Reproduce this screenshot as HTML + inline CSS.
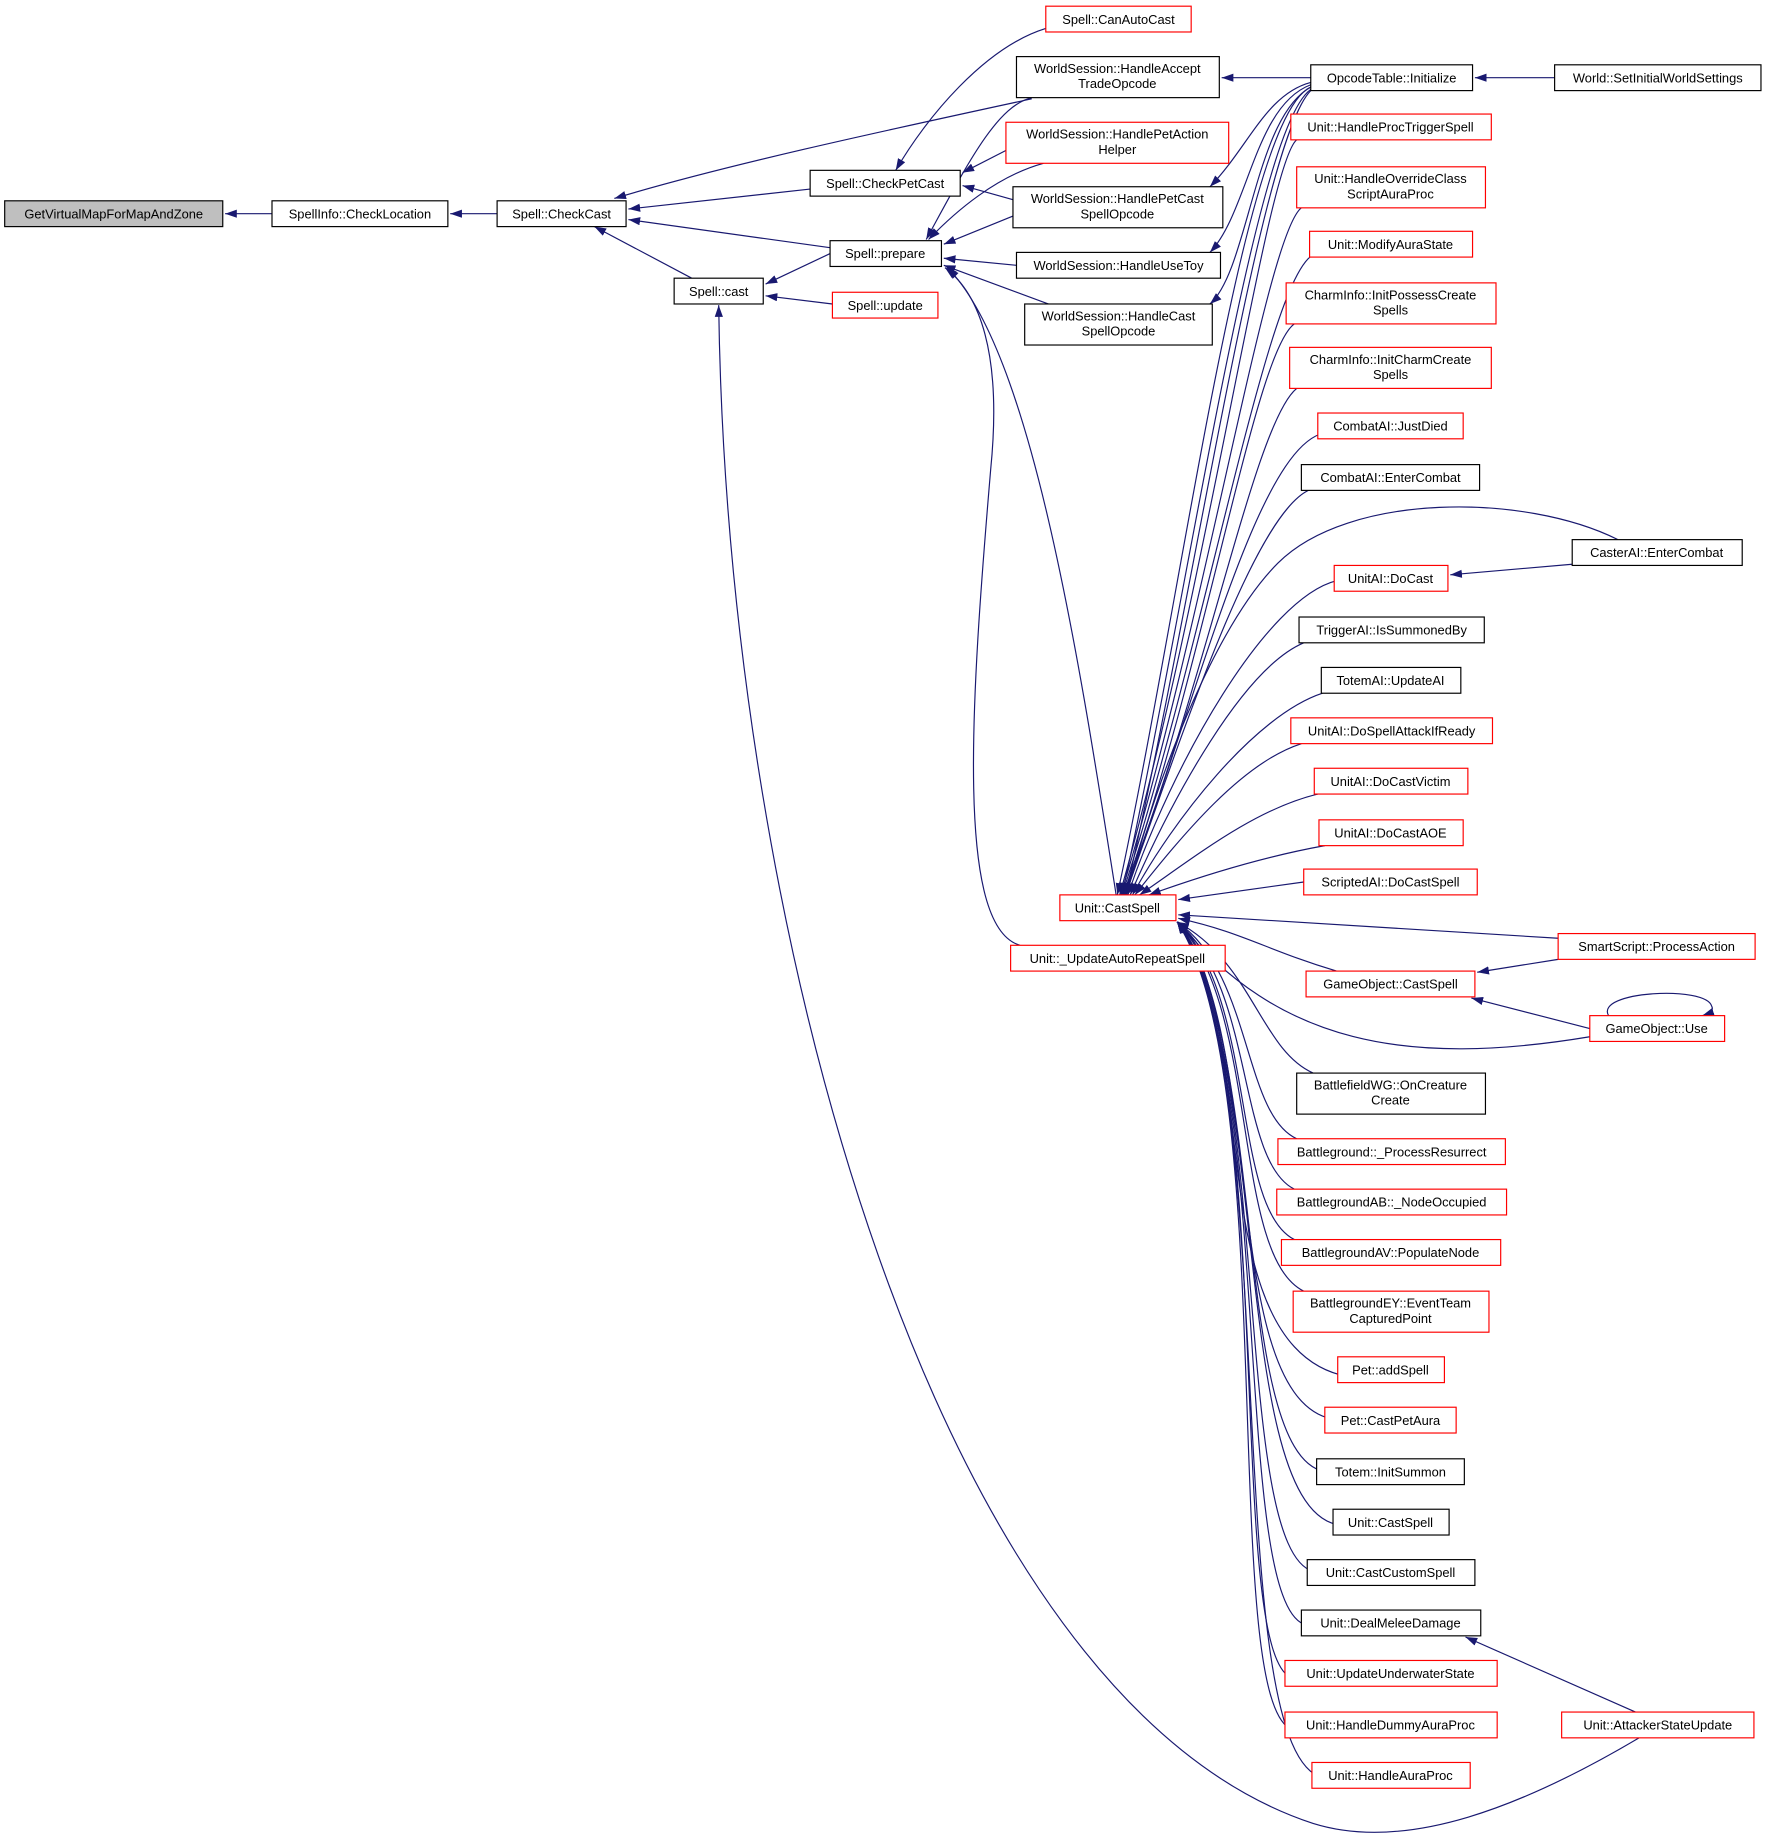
<!DOCTYPE html>
<html><head><meta charset="utf-8"><style>
html,body{margin:0;padding:0;background:#fff}
svg{display:block}
text{font-family:"Liberation Sans",sans-serif;font-size:11px;fill:#000}
.n{fill:#fff;stroke:#000;stroke-width:1}
.r{fill:#fff;stroke:#f00;stroke-width:1}
.e{fill:none;stroke:#191970;stroke-width:1}
</style></head><body>
<svg width="1768" height="1839" viewBox="0 0 1508 1568" xmlns="http://www.w3.org/2000/svg">
<defs><marker id="a" markerUnits="userSpaceOnUse" markerWidth="11" markerHeight="8" refX="10" refY="3.5" orient="auto"><path d="M0,0L10,3.5L0,7z" fill="#191970"/></marker></defs>
<g class="e" marker-end="url(#a)">
<path d="M232,182L192,182"/>
<path d="M424,182L384,182"/>
<path d="M691,161L536,178"/>
<path d="M708,211L536,187"/>
<path d="M880,84C760,110 620,140 524,169"/>
<path d="M590,237L507,193"/>
<path d="M708,216L653,242"/>
<path d="M710,259L653,252"/>
<path d="M892,24C840,40 790,100 764,145"/>
<path d="M860,127L821,147"/>
<path d="M864,170L821,158"/>
<path d="M880,83C850,90 825,140 790,204"/>
<path d="M890,139C850,150 815,180 792,204"/>
<path d="M864,184L805,208"/>
<path d="M867,226L805,220"/>
<path d="M897,260L805,226"/>
<path d="M952,763C920,560 880,300 808,228"/>
<path d="M870,806C815,790 828,600 845,400C855,300 835,250 806,228"/>
<path d="M1398,1482C1300,1540 1200,1580 1120,1555C800,1450 620,800 613,260"/>
<path d="M1118,66L1042,66"/>
<path d="M1326,66L1258,66"/>
<path d="M1118,70C1080,80 1065,125 1032,159"/>
<path d="M1118,72C1070,90 1065,180 1032,215"/>
<path d="M1118,74C1070,100 1065,230 1032,259"/>
<path d="M1118,74C1060,100 1010,500 953,763"/>
<path d="M1118,76C1070,110 1015,500 957,763"/>
<path d="M1118,77C1075,120 1020,500 960,763"/>
<path d="M1106,119C1080,140 1030,500 955,763"/>
<path d="M1110,177C1080,200 1030,520 956,763"/>
<path d="M1120,217C1080,240 1030,540 957,763"/>
<path d="M1104,276C1070,300 1030,560 958,763"/>
<path d="M1106,331C1070,360 1030,580 958,763"/>
<path d="M1126,370C1070,390 1020,600 959,763"/>
<path d="M1116,418C1070,440 1010,620 960,763"/>
<path d="M1380,460C1300,420 1150,420 1090,480C1040,530 990,650 961,763"/>
<path d="M1140,495C1080,510 1000,650 962,763"/>
<path d="M1341,481L1237,490"/>
<path d="M1112,548C1060,570 1000,680 964,763"/>
<path d="M1128,591C1070,610 1000,700 966,763"/>
<path d="M1110,634C1060,650 1010,710 968,763"/>
<path d="M1124,677C1070,690 1020,730 972,763"/>
<path d="M1130,721C1080,730 1030,745 980,763"/>
<path d="M1112,752L1005,767"/>
<path d="M1329,800L1005,780"/>
<path d="M1329,818L1260,829"/>
<path d="M1356,877L1255,851"/>
<path d="M1372,866C1360,845 1455,840 1460,858C1462,862 1458,864 1452,866"/>
<path d="M1356,884C1200,910 1090,890 1005,786"/>
<path d="M1140,828C1080,810 1060,795 1005,783"/>
<path d="M1120,915C1075,895 1068,820 1004,786"/>
<path d="M1106,971C1060,950 1068,830 1004,786"/>
<path d="M1104,1014C1055,990 1070,840 1004,786"/>
<path d="M1104,1057C1050,1030 1072,850 1004,786"/>
<path d="M1112,1101C1050,1070 1075,860 1004,786"/>
<path d="M1150,1174C1020,1150 1078,870 1004,786"/>
<path d="M1136,1210C1040,1190 1080,880 1004,786"/>
<path d="M1130,1255C1050,1240 1082,890 1004,786"/>
<path d="M1140,1300C1050,1280 1084,900 1004,786"/>
<path d="M1120,1340C1050,1320 1086,900 1004,786"/>
<path d="M1112,1385C1050,1360 1088,910 1004,786"/>
<path d="M1100,1430C1045,1400 1090,910 1004,786"/>
<path d="M1100,1474C1040,1440 1092,920 1004,786"/>
<path d="M1125,1515C1040,1480 1094,920 1004,786"/>
<path d="M1395,1460L1250,1396"/>
</g>
<g>
<rect x="4" y="171" width="186" height="22" fill="#bfbfbf" stroke="#000"/><text x="97" y="186" text-anchor="middle">GetVirtualMapForMapAndZone</text>
<rect class="n" x="232" y="171" width="150" height="22"/><text x="307" y="186" text-anchor="middle">SpellInfo::CheckLocation</text>
<rect class="n" x="424" y="171" width="110" height="22"/><text x="479" y="186" text-anchor="middle">Spell::CheckCast</text>
<rect class="n" x="575" y="237" width="76" height="22"/><text x="613" y="252" text-anchor="middle">Spell::cast</text>
<rect class="n" x="691" y="145" width="128" height="22"/><text x="755" y="160" text-anchor="middle">Spell::CheckPetCast</text>
<rect class="n" x="708" y="205" width="95" height="22"/><text x="755" y="220" text-anchor="middle">Spell::prepare</text>
<rect class="r" x="710" y="249" width="90" height="22"/><text x="755" y="264" text-anchor="middle">Spell::update</text>
<rect class="r" x="892" y="5" width="124" height="22"/><text x="954" y="20" text-anchor="middle">Spell::CanAutoCast</text>
<rect class="n" x="867" y="48" width="173" height="35"/><text x="953" y="62" text-anchor="middle">WorldSession::HandleAccept</text><text x="953" y="75" text-anchor="middle">TradeOpcode</text>
<rect class="r" x="858" y="104" width="190" height="35"/><text x="953" y="118" text-anchor="middle">WorldSession::HandlePetAction</text><text x="953" y="131" text-anchor="middle">Helper</text>
<rect class="n" x="864" y="159" width="179" height="35"/><text x="953" y="173" text-anchor="middle">WorldSession::HandlePetCast</text><text x="953" y="186" text-anchor="middle">SpellOpcode</text>
<rect class="n" x="867" y="215" width="174" height="22"/><text x="954" y="230" text-anchor="middle">WorldSession::HandleUseToy</text>
<rect class="n" x="874" y="259" width="160" height="35"/><text x="954" y="273" text-anchor="middle">WorldSession::HandleCast</text><text x="954" y="286" text-anchor="middle">SpellOpcode</text>
<rect class="n" x="1118" y="55" width="138" height="22"/><text x="1187" y="70" text-anchor="middle">OpcodeTable::Initialize</text>
<rect class="n" x="1326" y="55" width="176" height="22"/><text x="1414" y="70" text-anchor="middle">World::SetInitialWorldSettings</text>
<rect class="r" x="904" y="763" width="99" height="22"/><text x="953" y="778" text-anchor="middle">Unit::CastSpell</text>
<rect class="r" x="862" y="806" width="183" height="22"/><text x="953" y="821" text-anchor="middle">Unit::_UpdateAutoRepeatSpell</text>
<rect class="r" x="1101" y="97" width="171" height="22"/><text x="1186" y="112" text-anchor="middle">Unit::HandleProcTriggerSpell</text>
<rect class="r" x="1106" y="142" width="161" height="35"/><text x="1186" y="156" text-anchor="middle">Unit::HandleOverrideClass</text><text x="1186" y="169" text-anchor="middle">ScriptAuraProc</text>
<rect class="r" x="1117" y="197" width="139" height="22"/><text x="1186" y="212" text-anchor="middle">Unit::ModifyAuraState</text>
<rect class="r" x="1097" y="241" width="179" height="35"/><text x="1186" y="255" text-anchor="middle">CharmInfo::InitPossessCreate</text><text x="1186" y="268" text-anchor="middle">Spells</text>
<rect class="r" x="1100" y="296" width="172" height="35"/><text x="1186" y="310" text-anchor="middle">CharmInfo::InitCharmCreate</text><text x="1186" y="323" text-anchor="middle">Spells</text>
<rect class="r" x="1124" y="352" width="124" height="22"/><text x="1186" y="367" text-anchor="middle">CombatAI::JustDied</text>
<rect class="n" x="1110" y="396" width="152" height="22"/><text x="1186" y="411" text-anchor="middle">CombatAI::EnterCombat</text>
<rect class="r" x="1138" y="482" width="97" height="22"/><text x="1186" y="497" text-anchor="middle">UnitAI::DoCast</text>
<rect class="n" x="1341" y="460" width="145" height="22"/><text x="1413" y="475" text-anchor="middle">CasterAI::EnterCombat</text>
<rect class="n" x="1108" y="526" width="158" height="22"/><text x="1187" y="541" text-anchor="middle">TriggerAI::IsSummonedBy</text>
<rect class="n" x="1127" y="569" width="119" height="22"/><text x="1186" y="584" text-anchor="middle">TotemAI::UpdateAI</text>
<rect class="r" x="1101" y="612" width="172" height="22"/><text x="1187" y="627" text-anchor="middle">UnitAI::DoSpellAttackIfReady</text>
<rect class="r" x="1121" y="655" width="131" height="22"/><text x="1186" y="670" text-anchor="middle">UnitAI::DoCastVictim</text>
<rect class="r" x="1125" y="699" width="123" height="22"/><text x="1186" y="714" text-anchor="middle">UnitAI::DoCastAOE</text>
<rect class="r" x="1112" y="741" width="148" height="22"/><text x="1186" y="756" text-anchor="middle">ScriptedAI::DoCastSpell</text>
<rect class="r" x="1329" y="796" width="168" height="22"/><text x="1413" y="811" text-anchor="middle">SmartScript::ProcessAction</text>
<rect class="r" x="1114" y="828" width="144" height="22"/><text x="1186" y="843" text-anchor="middle">GameObject::CastSpell</text>
<rect class="r" x="1356" y="866" width="115" height="22"/><text x="1413" y="881" text-anchor="middle">GameObject::Use</text>
<rect class="n" x="1106" y="915" width="161" height="35"/><text x="1186" y="929" text-anchor="middle">BattlefieldWG::OnCreature</text><text x="1186" y="942" text-anchor="middle">Create</text>
<rect class="r" x="1090" y="971" width="194" height="22"/><text x="1187" y="986" text-anchor="middle">Battleground::_ProcessResurrect</text>
<rect class="r" x="1089" y="1014" width="196" height="22"/><text x="1187" y="1029" text-anchor="middle">BattlegroundAB::_NodeOccupied</text>
<rect class="r" x="1093" y="1057" width="187" height="22"/><text x="1186" y="1072" text-anchor="middle">BattlegroundAV::PopulateNode</text>
<rect class="r" x="1103" y="1101" width="167" height="35"/><text x="1186" y="1115" text-anchor="middle">BattlegroundEY::EventTeam</text><text x="1186" y="1128" text-anchor="middle">CapturedPoint</text>
<rect class="r" x="1141" y="1157" width="91" height="22"/><text x="1186" y="1172" text-anchor="middle">Pet::addSpell</text>
<rect class="r" x="1130" y="1200" width="112" height="22"/><text x="1186" y="1215" text-anchor="middle">Pet::CastPetAura</text>
<rect class="n" x="1123" y="1244" width="126" height="22"/><text x="1186" y="1259" text-anchor="middle">Totem::InitSummon</text>
<rect class="n" x="1137" y="1287" width="99" height="22"/><text x="1186" y="1302" text-anchor="middle">Unit::CastSpell</text>
<rect class="n" x="1115" y="1330" width="143" height="22"/><text x="1186" y="1345" text-anchor="middle">Unit::CastCustomSpell</text>
<rect class="n" x="1110" y="1373" width="153" height="22"/><text x="1186" y="1388" text-anchor="middle">Unit::DealMeleeDamage</text>
<rect class="r" x="1096" y="1416" width="181" height="22"/><text x="1186" y="1431" text-anchor="middle">Unit::UpdateUnderwaterState</text>
<rect class="r" x="1096" y="1460" width="181" height="22"/><text x="1186" y="1475" text-anchor="middle">Unit::HandleDummyAuraProc</text>
<rect class="r" x="1332" y="1460" width="164" height="22"/><text x="1414" y="1475" text-anchor="middle">Unit::AttackerStateUpdate</text>
<rect class="r" x="1119" y="1503" width="135" height="22"/><text x="1186" y="1518" text-anchor="middle">Unit::HandleAuraProc</text>
</g>
</svg>
</body></html>
